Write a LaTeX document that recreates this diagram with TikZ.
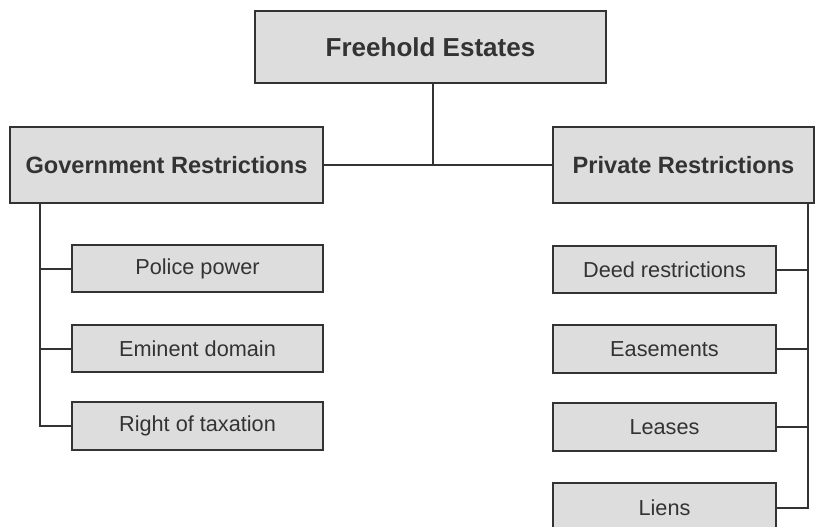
\documentclass[tikz,border=0pt]{standalone}
\usepackage{fontspec}
\setmainfont{Liberation Sans}
\definecolor{boxfill}{HTML}{DDDDDD}
\definecolor{boxline}{HTML}{333333}
\definecolor{txt}{HTML}{333333}
\tikzset{
  box/.style={draw=boxline, fill=boxfill, line width=2.4pt, inner sep=0pt, outer sep=0pt, text=txt, align=center},
  topbox/.style={box, font=\fontsize{26}{30}\selectfont\bfseries},
  headbox/.style={box, font=\fontsize{23.6}{28}\selectfont\bfseries},
  itembox/.style={box, font=\fontsize{21.7}{26}\selectfont},
  link/.style={draw=boxline, line width=2pt}
}
\begin{document}
\begin{tikzpicture}[x=1pt,y=-1pt]
\useasboundingbox (0,0) rectangle (817,527);
\clip (0,0) rectangle (817,527);
\fill[white] (0,0) rectangle (817,527);
% top
\node[topbox, minimum width=351pt, minimum height=72pt] (top) at (430.5,47) {Freehold Estates};
\node[headbox, minimum width=313pt, minimum height=76pt] (gov) at (166.5,165) {Government Restrictions};
\node[headbox, minimum width=261pt, minimum height=76pt] (priv) at (683.5,165) {Private Restrictions};
% left items
\node[itembox, minimum width=251pt, minimum height=47pt] (police) at (197.5,268.5) {Police power};
\node[itembox, minimum width=251pt, minimum height=47pt] (eminent) at (197.5,348.5) {Eminent domain};
\node[itembox, minimum width=251pt, minimum height=48pt] (tax) at (197.5,426) {Right of taxation};
% right items
\node[itembox, minimum width=223pt, minimum height=47pt] (deed) at (664.5,269.5) {Deed restrictions};
\node[itembox, minimum width=223pt, minimum height=48pt] (ease) at (664.5,349) {Easements};
\node[itembox, minimum width=223pt, minimum height=48pt] (lease) at (664.5,427) {Leases};
\node[itembox, minimum width=223pt, minimum height=50pt] (liens) at (664.5,508) {Liens};
% connectors
\coordinate (hub) at (433,165);
\draw[link] (top.south -| hub) -- (hub);
\draw[link] (gov.east) -- (priv.west);
\coordinate (gl) at (40,203);
\draw[link] (gl) |- (tax.west);
\draw[link] (police.west) -- (police.west -| gl);
\draw[link] (eminent.west) -- (eminent.west -| gl);
\coordinate (pr) at (808,203);
\draw[link] (pr) |- (liens.east);
\draw[link] (deed.east) -- (deed.east -| pr);
\draw[link] (ease.east) -- (ease.east -| pr);
\draw[link] (lease.east) -- (lease.east -| pr);
\end{tikzpicture}
\end{document}
